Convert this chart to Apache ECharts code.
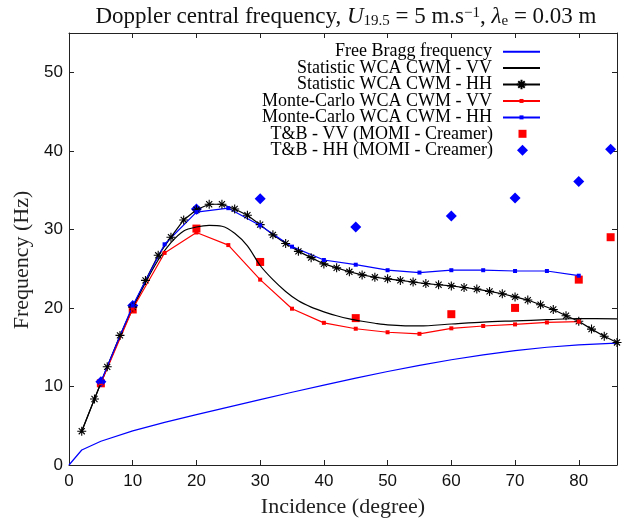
<!DOCTYPE html>
<html><head><meta charset="utf-8">
<script src="https://cdn.jsdelivr.net/npm/echarts@6/dist/echarts.min.js"></script>
<style>html,body{margin:0;padding:0;background:#fff}#c{width:633px;height:525px}</style>
</head><body><div id="c"></div>
<script>
// ---- data ----
const braggX = [0, 2, 5, 10, 15, 20, 25, 30, 35, 40, 45, 50, 55, 60, 65, 70, 75, 80, 85, 86];
const braggY = [0, 1.91, 3.03, 4.34, 5.42, 6.41, 7.37, 8.32, 9.26, 10.17, 11.06, 11.9, 12.69, 13.4, 14.03, 14.56, 14.99, 15.3, 15.49, 15.51];

const statVVX = [2, 4, 6, 8, 10, 12, 14, 16, 18, 20, 22, 24, 26, 28, 30, 32, 34, 36, 38, 40, 42, 44, 46, 48, 50, 55, 60, 65, 70, 75, 80, 86];
const statVVY = [4.3, 8.4, 12.4, 16.3, 19.9, 23.2, 26.1, 28.3, 29.8, 30.3, 30.5, 30.4, 29.5, 27.9, 25.4, 23.6, 22.1, 20.9, 20.1, 19.5, 19.0, 18.6, 18.3, 18.05, 17.85, 17.7, 17.95, 18.2, 18.35, 18.5, 18.65, 18.6];

const statHHX = [2, 4, 6, 8, 10, 12, 14, 16, 18, 20, 22, 24, 26, 28, 30, 32, 34, 36, 38, 40, 42, 44, 46, 48, 50, 52, 54, 56, 58, 60, 62, 64, 66, 68, 70, 72, 74, 76, 78, 80, 82, 84, 86];
const statHHY = [4.3, 8.4, 12.5, 16.5, 20.1, 23.5, 26.7, 29.0, 31.2, 32.5, 33.2, 33.2, 32.6, 31.8, 30.6, 29.3, 28.2, 27.2, 26.4, 25.6, 25.1, 24.6, 24.2, 23.9, 23.7, 23.5, 23.3, 23.1, 22.95, 22.8, 22.6, 22.4, 22.1, 21.8, 21.4, 21.0, 20.4, 19.8, 19.0, 18.3, 17.3, 16.4, 15.6];

const mcX = [5, 10, 15, 20, 25, 30, 35, 40, 45, 50, 55, 60, 65, 70, 75, 80];
const mcVVY = [10.4, 19.9, 27.0, 29.6, 28.0, 23.6, 19.9, 18.1, 17.35, 16.9, 16.7, 17.4, 17.7, 17.9, 18.15, 18.25];
const mcHHY = [10.6, 20.3, 28.1, 32.2, 32.7, 30.5, 27.8, 26.1, 25.5, 24.8, 24.5, 24.8, 24.8, 24.7, 24.7, 24.1];

const tbX = [5, 10, 20, 30, 45, 60, 70, 80, 85];
const tbVVY = [10.4, 19.8, 30.1, 25.85, 18.7, 19.2, 20.0, 23.6, 29.0];
const tbHHY = [10.6, 20.3, 32.6, 33.9, 30.3, 31.7, 34.0, 36.1, 40.2];

const seriesNames = [
  'Free Bragg frequency',
  'Statistic WCA CWM - VV',
  'Statistic WCA CWM - HH',
  'Monte-Carlo WCA CWM - VV',
  'Monte-Carlo WCA CWM - HH',
  'T&B - VV (MOMI - Creamer)',
  'T&B - HH (MOMI - Creamer)'
];

// ---- chart ----
const pairs = (xs, ys) => xs.map((x, i) => [x, ys[i]]);
const chart = echarts.init(document.getElementById('c'), null, {renderer: 'canvas'});

const BLUE = '#0000ff', RED = '#ff0000', BLACK = '#000000';
const axisCol = '#222';
const starPath = 'path://M4,0L4,8M0,4L8,4M1.3,1.3L6.7,6.7M1.3,6.7L6.7,1.3';

// legend icon box sizes (line icons are 37 px wide; scatter icons are just the marker)
const legendW = [37, 37, 37, 37, 37, 8, 11];
const legendH = [0, 0, 12, 5, 5, 8, 11];
const legends = seriesNames.map((n, i) => {
  const shift = (37 - legendW[i]) / 2;
  return {
    data: [n],
    orient: 'vertical',
    right: 92 + shift,
    top: 50.7 + i * 16.42 - 8,
    padding: 0,
    align: 'right',
    itemWidth: legendW[i],
    itemHeight: legendH[i],
    selectedMode: false,
    textStyle: {fontFamily: 'Liberation Serif', fontSize: 18, lineHeight: 16, color: '#000', padding: [0, 6 + shift, 0, 0]}
  };
});

const axisCommon = {
  type: 'value',
  axisLine: {show: true, onZero: false, lineStyle: {color: axisCol, width: 1}},
  axisTick: {show: true, inside: true, length: 5, lineStyle: {color: axisCol, width: 1}},
  splitLine: {show: false}
};

const option = {
  animation: false,
  backgroundColor: '#fff',
  grid: {left: 69, right: 16, top: 33, bottom: 60, containLabel: false},
  graphic: [{
    type: 'text',
    x: 346, y: 17,
    style: {
      text: 'Doppler central frequency, {i|U}{sub|19.5} = 5 m.s{sup|−1}, {i|λ}{sub|e} = 0.03 m',
      fontFamily: 'Liberation Serif', fontSize: 23, fill: '#111',
      align: 'center', verticalAlign: 'middle',
      rich: {
        i: {fontFamily: 'Liberation Serif', fontSize: 23, fontStyle: 'italic', fill: '#111'},
        sub: {fontFamily: 'Liberation Serif', fontSize: 15, verticalAlign: 'bottom', fill: '#111'},
        sup: {fontFamily: 'Liberation Serif', fontSize: 15, verticalAlign: 'top', fill: '#111'}
      }
    }
  }],
  legend: legends,
  xAxis: [
    Object.assign({}, axisCommon, {
      min: 0, max: 86, interval: 10, position: 'bottom',
      axisLabel: {fontFamily: 'Liberation Sans', fontSize: 17, color: '#111', margin: 8, showMaxLabel: false},
      name: 'Incidence (degree)', nameLocation: 'middle', nameGap: 31,
      nameTextStyle: {fontFamily: 'Liberation Serif', fontSize: 22, color: '#222'}
    }),
    Object.assign({}, axisCommon, {
      min: 0, max: 86, interval: 10, position: 'top',
      axisLabel: {show: false}
    })
  ],
  yAxis: [
    Object.assign({}, axisCommon, {
      min: 0, max: 55, interval: 10, position: 'left',
      axisLabel: {fontFamily: 'Liberation Sans', fontSize: 17, color: '#111', margin: 6, showMaxLabel: false},
      name: 'Frequency (Hz)', nameLocation: 'middle', nameGap: 33,
      nameTextStyle: {fontFamily: 'Liberation Serif', fontSize: 22, color: '#222', padding: [0, 22, 0, 0]}
    }),
    Object.assign({}, axisCommon, {
      min: 0, max: 55, interval: 10, position: 'right',
      axisLabel: {show: false}
    })
  ],
  series: [
    {
      name: seriesNames[0], type: 'line', data: pairs(braggX, braggY),
      symbol: 'none', lineStyle: {color: BLUE, width: 1.2}, itemStyle: {color: BLUE}
    },
    {
      name: seriesNames[1], type: 'line', data: pairs(statVVX, statVVY), smooth: 0.3,
      symbol: 'none', lineStyle: {color: BLACK, width: 1.2}, itemStyle: {color: BLACK}
    },
    {
      name: seriesNames[2], type: 'line', data: pairs(statHHX, statHHY),
      symbol: starPath, symbolSize: 9, showAllSymbol: true,
      lineStyle: {color: BLACK, width: 1.2},
      itemStyle: {color: BLACK, borderColor: BLACK, borderWidth: 1.1}
    },
    {
      name: seriesNames[3], type: 'line', data: pairs(mcX, mcVVY),
      symbol: 'rect', symbolSize: 4, showAllSymbol: true,
      lineStyle: {color: RED, width: 1.2}, itemStyle: {color: RED}
    },
    {
      name: seriesNames[4], type: 'line', data: pairs(mcX, mcHHY),
      symbol: 'rect', symbolSize: 4, showAllSymbol: true,
      lineStyle: {color: BLUE, width: 1.2}, itemStyle: {color: BLUE}
    },
    {
      name: seriesNames[5], type: 'scatter', data: pairs(tbX, tbVVY),
      symbol: 'rect', symbolSize: 8, itemStyle: {color: RED, opacity: 1}
    },
    {
      name: seriesNames[6], type: 'scatter', data: pairs(tbX, tbHHY),
      symbol: 'diamond', symbolSize: 11, itemStyle: {color: BLUE, opacity: 1}
    }
  ]
};
chart.setOption(option);
</script></body></html>
